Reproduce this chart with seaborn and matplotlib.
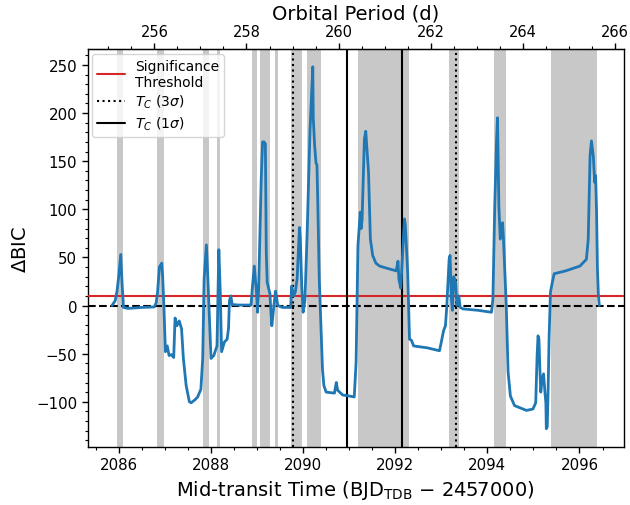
import numpy as np
import pandas as pd
import matplotlib
matplotlib.use("Agg")
import matplotlib.pyplot as plt
from matplotlib.ticker import MultipleLocator
import seaborn as sns

# ---------------- data ----------------
time = [2085.85, 2085.92, 2085.96, 2086.00, 2086.04, 2086.07, 2086.10, 2086.20, 2086.50, 2086.77,
        2086.81, 2086.84, 2086.88, 2086.93, 2086.95, 2086.98, 2087.01, 2087.05, 2087.09, 2087.14,
        2087.19, 2087.22, 2087.26, 2087.31, 2087.36, 2087.40, 2087.46, 2087.53, 2087.57, 2087.65,
        2087.71, 2087.78, 2087.82, 2087.85, 2087.90, 2087.93, 2087.96, 2088.00, 2088.06, 2088.13,
        2088.17, 2088.20, 2088.23, 2088.29, 2088.35, 2088.38, 2088.40, 2088.43, 2088.46, 2088.60,
        2088.87, 2088.90, 2088.94, 2088.99, 2089.01, 2089.03, 2089.09, 2089.12, 2089.15, 2089.18,
        2089.19, 2089.20, 2089.22, 2089.28, 2089.30, 2089.32, 2089.40, 2089.45, 2089.55, 2089.73,
        2089.75, 2089.79, 2089.83, 2089.87, 2089.92, 2089.94, 2089.97, 2090.00, 2090.04, 2090.09,
        2090.15, 2090.21, 2090.22, 2090.25, 2090.28, 2090.30, 2090.32, 2090.35, 2090.39, 2090.42,
        2090.45, 2090.50, 2090.68, 2090.72, 2090.75, 2090.86, 2091.00, 2091.11, 2091.15, 2091.19,
        2091.24, 2091.26, 2091.28, 2091.33, 2091.36, 2091.42, 2091.46, 2091.51, 2091.58, 2091.66,
        2091.80, 2092.02, 2092.06, 2092.08, 2092.12, 2092.20, 2092.22, 2092.27, 2092.31, 2092.35,
        2092.40, 2092.70, 2092.96, 2093.00, 2093.05, 2093.09, 2093.12, 2093.17, 2093.19, 2093.22,
        2093.24, 2093.27, 2093.31, 2093.34, 2093.38, 2093.41, 2093.47, 2093.80, 2094.09, 2094.12,
        2094.16, 2094.20, 2094.22, 2094.25, 2094.28, 2094.30, 2094.33, 2094.35, 2094.41, 2094.45,
        2094.50, 2094.59, 2094.85, 2094.99, 2095.05, 2095.08, 2095.10, 2095.12, 2095.14, 2095.16,
        2095.19, 2095.22, 2095.25, 2095.27, 2095.28, 2095.30, 2095.32, 2095.34, 2095.37, 2095.41,
        2095.45, 2095.70, 2096.01, 2096.15, 2096.19, 2096.23, 2096.26, 2096.30, 2096.33, 2096.35,
        2096.37, 2096.39, 2096.41, 2096.43]
delta_bic = [0, 5, 15, 32, 53, 22, -2, -3, -2, -1.5,
             3, 14, 40, 44, 30, -5, -48, -42, -52, -51,
             -54, -13, -21, -16, -24, -55, -83, -100, -101, -98,
             -95, -87, -55, 27, 63, 30, -7, -55, -52, -42,
             58, 15, -48, -38, -35, -24, 5, 10, 1, 0.5,
             0.5, 20, 41, 12, -7, 10, 131, 170, 170, 168,
             108, 55, 24, 12, -7, -21, 15, 0, -2, -2,
             20, 10, 14, 28, 81, 68, 20, -7, 6, 80,
             183, 248, 195, 166, 148, 146, 103, 28, -24, -66,
             -83, -90, -91, -80, -88, -93, -94, -95, -59, 62,
             97, 80, 89, 173, 181, 138, 69, 52, 44, 41,
             39, 36, 46, 27, 18, 90, 83, 34, -35, -36,
             -42, -44, -47, -38, -26, -21, 0, 48, 52, 7,
             -5, 30, 24, 0, 10, -2, -3.5, -5, -7, 6.5,
             103, 172, 195, 103, 69, 75, 86, 69, 0, -69,
             -94, -104, -109, -107.5, -101, -52, -31.5, -35, -66, -90,
             -76, -71, -90, -101, -128, -126, -86, -34, 14, 24,
             33, 36, 41, 48, 69, 156, 171, 155, 128, 135,
             99, 38, 11, 0]

shaded_start = [2085.96, 2086.83, 2087.83, 2088.14, 2088.90, 2089.06, 2089.40, 2089.74, 2090.09,
                2091.20, 2093.17, 2094.14, 2095.38]
shaded_end = [2086.09, 2086.98, 2087.96, 2088.20, 2089.00, 2089.27, 2089.45, 2089.98, 2090.38,
              2092.30, 2093.38, 2094.41, 2096.39]

tc_3sigma = [2089.79, 2093.31]
tc_1sigma = [2090.96, 2092.15]
threshold = 10
period_offset = 1830.77

df = pd.DataFrame({"time": time, "dbic": delta_bic})

# ---------------- style ----------------
sns.set_style("ticks", {"axes.edgecolor": "black", "xtick.color": "black", "ytick.color": "black",
                        "text.color": "black", "axes.labelcolor": "black",
                        "xtick.direction": "out", "ytick.direction": "out"})
plt.rcParams["font.family"] = ["DejaVu Sans"]

fig = plt.figure(figsize=(6.3, 5.06), dpi=100)
ax = fig.add_axes([0.139, 0.1146, 0.851, 0.7866])

for s, e in zip(shaded_start, shaded_end):
    ax.axvspan(s, e, color="#c8c8c8", lw=0, zorder=0)

ax.axhline(threshold, color="#d62728", lw=1.5, zorder=3, label="Significance\nThreshold")
ax.axhline(0, color="black", lw=1.5, ls="--", zorder=3)
for i, t in enumerate(tc_3sigma):
    ax.axvline(t, color="black", lw=1.5, ls=":", zorder=3,
               label=r"$T_C$ (3$\sigma$)" if i == 0 else None)
for i, t in enumerate(tc_1sigma):
    ax.axvline(t, color="black", lw=1.5, ls="-", zorder=3,
               label=r"$T_C$ (1$\sigma$)" if i == 0 else None)

sns.lineplot(data=df, x="time", y="dbic", ax=ax, color="#1f77b4", lw=2, estimator=None,
             sort=False, zorder=4)

ax.set_xlim(2085.32, 2096.96)
ax.set_ylim(-147, 266.5)
ax.xaxis.set_major_locator(MultipleLocator(2))
ax.xaxis.set_minor_locator(MultipleLocator(0.5))
ax.yaxis.set_major_locator(MultipleLocator(50))
ax.yaxis.set_minor_locator(MultipleLocator(10))
ax.tick_params(axis="both", which="major", labelsize=10.8, length=4, width=1)
ax.tick_params(axis="both", which="minor", length=2, width=0.8)
for sp in ax.spines.values():
    sp.set_visible(True)
    sp.set_linewidth(1)

ax.set_xlabel(r"Mid-transit Time (BJD$_{\rm TDB}$ $-$ 2457000)", fontsize=14)
ax.set_ylabel(r"$\Delta$BIC", fontsize=14)

sec = ax.secondary_xaxis("top", functions=(lambda t: t - period_offset, lambda p: p + period_offset))
sec.xaxis.set_major_locator(MultipleLocator(2))
sec.xaxis.set_minor_locator(MultipleLocator(0.5))
sec.tick_params(axis="x", which="major", labelsize=10.5, length=4, width=1, direction="out")
sec.tick_params(axis="x", which="minor", length=2, width=0.8, direction="out")
sec.set_xlabel("Orbital Period (d)", fontsize=14)

leg = ax.legend(loc="upper left", fontsize=10, frameon=True, framealpha=0.8,
                labelspacing=0.3, borderpad=0.35, handletextpad=0.7, borderaxespad=0.35)

fig.savefig("out.png", dpi=100)
